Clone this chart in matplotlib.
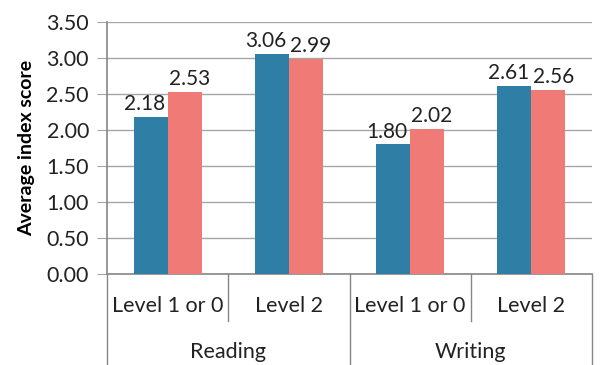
import matplotlib
matplotlib.use("Agg")
import matplotlib.pyplot as plt
import numpy as np
from matplotlib.transforms import blended_transform_factory

plt.rcParams['font.family'] = ['Lato', 'DejaVu Sans']

levels = ["Level 1 or 0", "Level 2", "Level 1 or 0", "Level 2"]
groups = ["Reading", "Writing"]
series_a = [2.18, 3.06, 1.80, 2.61]
series_b = [2.53, 2.99, 2.02, 2.56]
y_ticks = [0.0, 0.5, 1.0, 1.5, 2.0, 2.5, 3.0, 3.5]

blue = "#2e7ea6"
salmon = "#f07b76"
grid_col = "#a6a6a6"
axis_col = "#868686"
txt = "#222222"
fs = 15.5
fs_val = 15

fig = plt.figure(figsize=(6.0, 3.65), dpi=100)
ax = fig.add_axes([107/600, 1-274/365, (592-107)/600, (274-22)/365])

x = np.arange(len(levels))
w = 0.28
ax.bar(x - w/2, series_a, w, color=blue, zorder=3)
ax.bar(x + w/2, series_b, w, color=salmon, zorder=3)

# value labels, nudged apart so neighbours don't collide
for xi, v in zip(x - w/2, series_a):
    ax.annotate(f"{v:.2f}", (xi, v), xytext=(-4.5, 2), textcoords="offset points",
                ha="center", va="bottom", fontsize=fs_val, color=txt)
for xi, v in zip(x + w/2, series_b):
    ax.annotate(f"{v:.2f}", (xi, v), xytext=(3.5, 2), textcoords="offset points",
                ha="center", va="bottom", fontsize=fs_val, color=txt)

ax.set_xlim(-0.5, len(levels) - 0.5)
ax.set_ylim(0, 3.5)
ax.set_yticks(y_ticks)
ax.set_yticklabels([f"{t:.2f}" for t in y_ticks], fontsize=fs, color=txt)
ax.yaxis.grid(True, color=grid_col, linewidth=1.0, zorder=0)
ax.tick_params(axis="y", length=7, color=grid_col, pad=6)
ax.set_xticks([])
for s in ["top", "right"]:
    ax.spines[s].set_visible(False)
ax.spines["left"].set_color(axis_col)
ax.spines["bottom"].set_color(axis_col)
ax.spines["left"].set_linewidth(1.2)
ax.spines["bottom"].set_linewidth(1.2)

ax.set_ylabel("Average index score", fontsize=14, fontweight="bold", labelpad=8)

# two-level category axis
tr = blended_transform_factory(ax.transData, ax.transAxes)
for b in [0.5, 2.5]:
    ax.plot([b, b], [0, -0.187], transform=tr, color=axis_col, lw=1.0, clip_on=False)
for b in [-0.5, 1.5, 3.5]:
    ax.plot([b, b], [0, -0.37], transform=tr, color=axis_col, lw=1.0, clip_on=False)
for xi, lab in zip(x, levels):
    ax.text(xi, -0.127, lab, transform=tr, ha="center", va="center", fontsize=fs, color=txt)
for gi, lab in enumerate(groups):
    ax.text(gi * 2 + 0.5, -0.31, lab, transform=tr, ha="center", va="center", fontsize=fs, color=txt)

fig.savefig("out.png", dpi=100)
